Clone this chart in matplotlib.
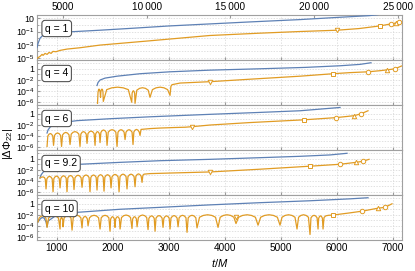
import numpy as np
import matplotlib
matplotlib.use("Agg")
import matplotlib.pyplot as plt

plt.rcParams['font.family'] = ['Liberation Sans', 'DejaVu Sans']
plt.rcParams['mathtext.fontset'] = 'custom'
plt.rcParams['mathtext.rm'] = 'Liberation Sans'
plt.rcParams['mathtext.it'] = 'Liberation Sans:italic'

BLUE = '#5e81b5'
ORANGE = '#e19c24'

# ---- data: time t/M and log10 |dPhi22| ----
# q = 1 (top axis)
t_blue_1 = [3450, 3510, 3630, 3810, 4230, 5000, 7200, 9170, 11370, 13750, 16130, 19100, 21480, 23270, 23800]
e_blue_1 = [-3.4, -2.8, -2.0, -1.55, -1.25, -1.1, -0.8, -0.5, -0.15, 0.15, 0.45, 0.8, 1.15, 1.4, 1.55]
t_orng_1 = [3450, 3630, 3750, 3810, 3930, 4050, 4170, 4290, 4400, 4580, 4820, 5240, 6010, 7200,
            10180, 13750, 16720, 19100, 21360, 22670, 23920, 24570, 24900, 25080, 25130]
e_orng_1 = [-5.05, -4.75, -4.45, -4.6, -4.3, -4.45, -4.15, -4.3, -4.0, -4.05, -3.85, -3.65, -3.45, -3.05,
            -2.4, -1.6, -1.25, -1.0, -0.8, -0.55, -0.15, 0.15, 0.3, 0.5, 0.6]
t_mark_1 = [21360, 23920, 24570, 24900, 25080]
e_mark_1 = [-0.8, -0.15, 0.15, 0.3, 0.5]

# q = 4
t_blue_4 = [1722, 1740, 1776, 1865, 2079, 2489, 3024, 3737, 4628, 5431, 6055, 6411, 6607]
e_blue_4 = [-3.05, -2.5, -2.05, -1.7, -1.35, -0.9, -0.55, -0.25, 0.0, 0.25, 0.55, 0.8, 1.1]
t_orng_4 = [1731, 1740, 1750, 1758, 1766, 1777,
            1785, 1791, 1800, 1810, 1819, 1828,
            1834, 1895, 1986, 2088, 2189, 2280,
            2341, 2348, 2359, 2370, 2382, 2393,
            2400, 2432, 2480, 2533, 2587, 2635,
            2667, 2710, 2774, 2845, 2917, 2981,
            3024, 3040, 3059, 3202, 3737, 4450, 5342, 5930, 6233, 6554, 6768, 6893, 7036, 7150]
e_orng_4 = [-6.3, -4.3, -3.82, -3.7, -3.82, -4.15,
            -5.2, -4.15, -3.82, -3.7, -3.82, -4.15,
            -5.95, -3.8, -3.47, -3.35, -3.47, -3.8,
            -6.1, -4.45, -4.12, -4.0, -4.12, -4.45,
            -6.3, -3.9, -3.57, -3.45, -3.57, -3.9,
            -5.2, -3.8, -3.47, -3.35, -3.47, -3.8,
            -4.85, -3.2, -2.9, -2.6, -2.35, -1.9, -1.35, -0.9, -0.7, -0.55, -0.35, -0.2, 0.0, 0.5]
t_mark_4 = [3737, 5930, 6554, 6893, 7036]
e_mark_4 = [-2.35, -0.9, -0.55, -0.2, 0.0]

# q = 6
t_blue_6 = [831, 849, 884, 938, 1027, 1366, 1954, 2667, 3737, 4628, 5342, 6055]
e_blue_6 = [-3.5, -2.95, -2.45, -2.05, -1.7, -1.25, -0.9, -0.55, -0.1, 0.25, 0.55, 1.15]
t_orng_6 = [831, 845, 866, 889, 912, 933,
            947, 964, 990, 1018, 1047, 1073,
            1090, 1108, 1135, 1165, 1196, 1223,
            1241, 1262, 1294, 1330, 1366, 1398,
            1419, 1434, 1456, 1481, 1506, 1529,
            1544, 1561, 1587, 1615, 1644, 1670,
            1687, 1698, 1714, 1731, 1749, 1765,
            1776, 1791, 1813, 1838, 1863, 1886,
            1901, 1922, 1954, 1990, 2026, 2058,
            2079, 2096, 2122, 2150, 2179, 2205,
            2222, 2239, 2265, 2293, 2321, 2347,
            2364, 2379, 2401, 2426, 2451, 2474,
            2489, 2507, 2667, 2846, 3113, 3292, 3417, 3737, 4450, 5413, 5984, 6305, 6430, 6554]
e_orng_6 = [-5.95, -4.05, -3.72, -3.6, -3.72, -4.05,
            -5.75, -3.95, -3.62, -3.5, -3.62, -3.95,
            -5.95, -3.85, -3.52, -3.4, -3.52, -3.85,
            -5.6, -3.7, -3.37, -3.25, -3.37, -3.7,
            -5.95, -3.7, -3.37, -3.25, -3.37, -3.7,
            -5.4, -3.6, -3.27, -3.15, -3.27, -3.6,
            -5.75, -3.7, -3.37, -3.25, -3.37, -3.7,
            -5.25, -3.4, -3.07, -2.95, -3.07, -3.4,
            -5.75, -3.35, -3.02, -2.9, -3.02, -3.35,
            -5.95, -3.35, -3.02, -2.9, -3.02, -3.35,
            -4.7, -3.35, -3.02, -2.9, -3.02, -3.35,
            -5.6, -3.3, -2.97, -2.85, -2.97, -3.3,
            -3.95, -2.85, -2.7, -2.6, -2.5, -2.45, -2.35, -2.05, -1.6, -1.1, -0.7, -0.35, 0.0, 0.55]
t_mark_6 = [3417, 5413, 5984, 6305, 6430]
e_mark_6 = [-2.35, -1.1, -0.7, -0.35, 0.0]

# q = 9.2
t_blue_9 = [706, 724, 760, 831, 884, 1419, 2133, 2846, 3737, 4628, 5342, 5877, 6180]
e_blue_9 = [-3.5, -2.95, -2.45, -2.0, -1.7, -1.0, -0.65, -0.35, -0.1, 0.2, 0.45, 0.7, 1.0]
t_orng_9 = [706, 730, 760, 785, 800,
            813, 828, 850, 875, 900, 923,
            938, 953, 975, 1000, 1025, 1048,
            1063, 1078, 1100, 1125, 1150, 1172,
            1187, 1202, 1224, 1250, 1275, 1297,
            1312, 1329, 1355, 1383, 1412, 1438,
            1455, 1472, 1498, 1526, 1554, 1580,
            1597, 1612, 1634, 1660, 1685, 1707,
            1722, 1737, 1760, 1785, 1810, 1832,
            1847, 1862, 1885, 1910, 1935, 1957,
            1972, 1989, 2015, 2043, 2072, 2098,
            2115, 2132, 2158, 2186, 2214, 2240,
            2257, 2274, 2300, 2328, 2357, 2383,
            2400, 2415, 2437, 2462, 2487, 2510,
            2525, 2540, 2560, 2667, 3200, 3737, 4628, 5520, 6055, 6340, 6465, 6572]
e_orng_9 = [-3.5, -3.35, -3.3, -3.42, -3.75,
            -5.5, -3.65, -3.32, -3.2, -3.32, -3.65,
            -6.0, -3.6, -3.27, -3.15, -3.27, -3.6,
            -5.3, -3.55, -3.22, -3.1, -3.22, -3.55,
            -6.0, -3.5, -3.17, -3.05, -3.17, -3.5,
            -5.6, -3.45, -3.12, -3.0, -3.12, -3.45,
            -5.2, -3.4, -3.07, -2.95, -3.07, -3.4,
            -6.0, -3.4, -3.07, -2.95, -3.07, -3.4,
            -5.7, -3.35, -3.02, -2.9, -3.02, -3.35,
            -5.9, -3.35, -3.02, -2.9, -3.02, -3.35,
            -5.3, -3.3, -2.97, -2.85, -2.97, -3.3,
            -6.0, -3.25, -2.92, -2.8, -2.92, -3.25,
            -5.5, -3.25, -2.92, -2.8, -2.92, -3.25,
            -5.1, -3.2, -2.87, -2.75, -2.87, -3.2,
            -4.3, -3.0, -2.8, -2.7, -2.55, -2.4, -1.9, -1.35, -1.0, -0.65, -0.45, -0.1]
t_mark_9 = [3737, 5520, 6055, 6340, 6465]
e_mark_9 = [-2.4, -1.35, -1.0, -0.65, -0.45]

# q = 10
t_blue_10 = [671, 706, 742, 778, 813, 831, 849, 974, 1384, 2133, 2846, 3737, 4628, 5520, 6233, 6554]
e_blue_10 = [-3.3, -2.8, -2.5, -2.6, -3.3, -4.2, -3.15, -2.25, -1.55, -1.0, -0.65, -0.2, 0.2, 0.55, 0.9, 1.1]
t_orng_10 = [671, 690, 720, 751, 783, 812,
             831, 859, 901, 947, 993, 1035,
             1063, 1069, 1079, 1090, 1100, 1110,
             1116, 1135, 1164, 1197, 1229, 1258,
             1277, 1298, 1330, 1366, 1402, 1434,
             1455, 1468, 1487, 1509, 1530, 1549,
             1562, 1588, 1626, 1669, 1712, 1750,
             1776, 1797, 1829, 1865, 1901, 1933,
             1954, 1965, 1981, 1999, 2016, 2032,
             2043, 2054, 2070, 2088, 2106, 2122,
             2133, 2159, 2197, 2240, 2282, 2320,
             2346, 2357, 2373, 2391, 2409, 2425,
             2436, 2460, 2495, 2534, 2573, 2608,
             2632, 2647, 2670, 2695, 2720, 2742,
             2757, 2774, 2800, 2828, 2856, 2882,
             2899, 2914, 2937, 2962, 2987, 3009,
             3024, 3041, 3067, 3096, 3124, 3150,
             3167, 3186, 3215, 3247, 3279, 3308,
             3327, 3348, 3380, 3416, 3452, 3484,
             3505, 3550, 3618, 3693, 3768, 3835,
             3880, 3918, 3976, 4040, 4104, 4162,
             4200, 4247, 4318, 4397, 4475, 4546,
             4593, 4640, 4711, 4789, 4867, 4938,
             4985, 5021, 5076, 5137, 5197, 5252,
             5288, 5316, 5358, 5404, 5450, 5492,
             5520, 5537, 5563, 5592, 5620, 5646,
             5663, 5674, 5690, 5708, 5725, 5741,
             5752, 5770, 5800, 5850, 5930, 6200, 6447, 6733, 6857, 6982]
e_orng_10 = [-3.3, -2.6, -2.3, -2.2, -2.32, -2.65,
             -4.3, -2.6, -2.27, -2.15, -2.27, -2.6,
             -4.6, -2.95, -2.62, -2.5, -2.62, -2.95,
             -4.2, -2.6, -2.27, -2.15, -2.27, -2.6,
             -4.8, -2.55, -2.22, -2.1, -2.22, -2.55,
             -4.4, -2.75, -2.42, -2.3, -2.42, -2.75,
             -4.0, -2.55, -2.22, -2.1, -2.22, -2.55,
             -4.6, -2.55, -2.22, -2.1, -2.22, -2.55,
             -5.0, -2.8, -2.47, -2.35, -2.47, -2.8,
             -4.3, -2.8, -2.47, -2.35, -2.47, -2.8,
             -4.6, -2.5, -2.17, -2.05, -2.17, -2.5,
             -4.5, -2.8, -2.47, -2.35, -2.47, -2.8,
             -4.2, -2.5, -2.17, -2.05, -2.17, -2.5,
             -4.7, -2.65, -2.32, -2.2, -2.32, -2.65,
             -5.0, -2.6, -2.27, -2.15, -2.27, -2.6,
             -4.3, -2.65, -2.32, -2.2, -2.32, -2.65,
             -4.6, -2.6, -2.27, -2.15, -2.27, -2.6,
             -4.2, -2.55, -2.22, -2.1, -2.22, -2.55,
             -5.2, -2.55, -2.22, -2.1, -2.22, -2.55,
             -4.4, -2.45, -2.12, -2.0, -2.12, -2.45,
             -4.3, -2.45, -2.12, -2.0, -2.12, -2.45,
             -3.6, -2.45, -2.12, -2.0, -2.12, -2.45,
             -3.9, -2.45, -2.12, -2.0, -2.12, -2.45,
             -3.9, -2.45, -2.12, -2.0, -2.12, -2.45,
             -4.6, -2.45, -2.12, -2.0, -2.12, -2.45,
             -5.6, -2.55, -2.22, -2.1, -2.22, -2.55,
             -4.6, -2.65, -2.32, -2.2, -2.32, -2.65,
             -4.6, -2.5, -2.2, -2.1, -2.05, -1.7, -1.35, -0.8, -0.65, 0.0]
t_mark_10 = [4200, 5930, 6447, 6733, 6857]
e_mark_10 = [-2.4, -2.05, -1.35, -0.8, -0.65]

labels = ['q = 1', 'q = 4', 'q = 6', 'q = 9.2', 'q = 10']
blues = [(t_blue_1, e_blue_1), (t_blue_4, e_blue_4), (t_blue_6, e_blue_6), (t_blue_9, e_blue_9), (t_blue_10, e_blue_10)]
orngs = [(t_orng_1, e_orng_1), (t_orng_4, e_orng_4), (t_orng_6, e_orng_6), (t_orng_9, e_orng_9), (t_orng_10, e_orng_10)]
marks = [(t_mark_1, e_mark_1), (t_mark_4, e_mark_4), (t_mark_6, e_mark_6), (t_mark_9, e_mark_9), (t_mark_10, e_mark_10)]
mstyles = ['v', 's', 'o', '^', 'o']

fig, axes = plt.subplots(5, 1, sharex=True, figsize=(4.15, 2.71), dpi=100,
                         gridspec_kw=dict(hspace=0))
fig.subplots_adjust(left=37/415, right=402/415, top=1-15/271, bottom=1-240/271)

grid_kw = dict(color='#d4d4d4', lw=0.5, ls=(0, (2, 2)))

for i, ax in enumerate(axes):
    ax.set_yscale('log')
    if i == 0:
        ax.set_ylim(10**-5.3, 10**1.5)
        ax.set_yticks([1e-5, 1e-3, 1e-1, 10])
        ax.set_yticklabels([r'$10^{-5}$', r'$10^{-3}$', r'$10^{-1}$', '10'])
        ax.set_yticks([10.0**k for k in range(-5, 2)], minor=True)
    else:
        ax.set_ylim(10**-6.6, 10**1.6)
        ax.set_yticks([1e-6, 1e-4, 1e-2, 1])
        ax.set_yticklabels([r'$10^{-6}$', r'$10^{-4}$', r'$10^{-2}$', '1'])
        ax.set_yticks([10.0**k for k in range(-6, 2)], minor=True)
    ax.yaxis.set_minor_formatter(plt.NullFormatter())
    ax.grid(True, which='both', axis='y', **grid_kw)
    ax.grid(True, which='major', axis='x', **grid_kw)
    ax.tick_params(axis='both', which='both', direction='in', labelsize=6.3, color='#999999', pad=2)
    ax.tick_params(axis='x', labelsize=7.2)
    ax.tick_params(which='major', length=2.5)
    ax.tick_params(which='minor', length=1.5)
    for s in ax.spines.values():
        s.set_color('#a0a0a0')
        s.set_linewidth(0.8)
    ax.set_axisbelow(True)

    if i == 0:
        tgt = ax.twiny()
        tgt.set_xlim(3448, 25240)
        tgt.set_xticks([5000, 10000, 15000, 20000, 25000])
        tgt.set_xticklabels(['5000', '10\u2009000', '15\u2009000', '20\u2009000', '25\u2009000'])
        tgt.tick_params(axis='x', direction='in', labelsize=7.2, color='#999999', pad=2, length=2.5)
        for s in tgt.spines.values():
            s.set_visible(False)
        ax.tick_params(axis='x', which='both', top=False)
    else:
        tgt = ax

    tb, eb = blues[i]
    to, eo = orngs[i]
    tm, em = marks[i]
    tgt.plot(tb, 10.0**np.array(eb), color=BLUE, lw=0.9, zorder=3)
    tgt.plot(to, 10.0**np.array(eo), color=ORANGE, lw=0.9, zorder=3)
    for k in range(len(tm)):
        tgt.plot(tm[k], 10.0**em[k], marker=mstyles[k], ms=3.2, mfc='white', mec=ORANGE,
                 mew=0.7, ls='none', zorder=4)
    tgt.text(0.022, 0.70, labels[i], transform=tgt.transAxes, fontsize=7.5, va='center', ha='left',
             zorder=10, bbox=dict(boxstyle='round,pad=0.3,rounding_size=0.3', fc='white', ec='#555555', lw=0.8))

axes[-1].set_xlim(652, 7160)
axes[-1].set_xticks([1000, 2000, 3000, 4000, 5000, 6000, 7000])
axes[-1].set_xlabel(r'$t/M$', fontsize=8, labelpad=3)
fig.text(0.02, 0.47, r'$|\Delta\Phi_{22}|$', rotation=90, fontsize=8, ha='center', va='center')

fig.savefig('out.png', dpi=100)
